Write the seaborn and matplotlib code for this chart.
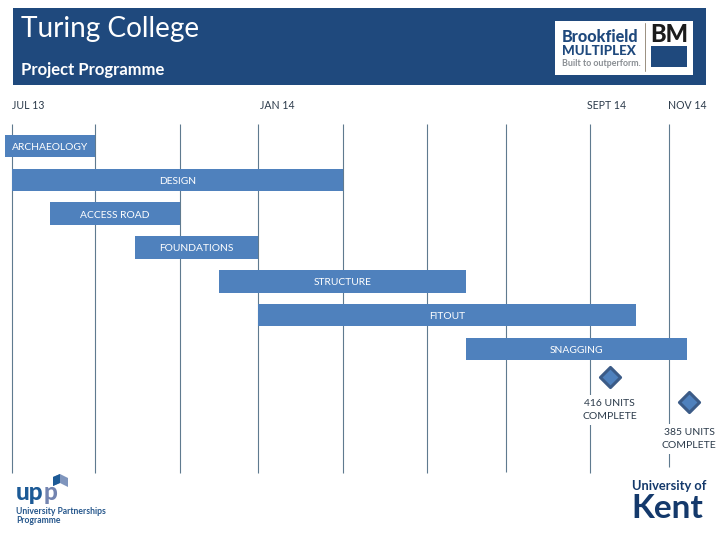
import matplotlib
matplotlib.use("Agg")
import matplotlib.pyplot as plt
from matplotlib.patches import Polygon, Rectangle
import numpy as np
import pandas as pd
import seaborn as sns

# everything on the time axis is months since JUL 13
tasks = ["ARCHAEOLOGY", "DESIGN", "ACCESS ROAD", "FOUNDATIONS", "STRUCTURE", "FITOUT", "SNAGGING"]
task_start = [-0.16, 0.0, 0.94, 3.00, 5.05, 6.01, 11.06]
task_end = [2.04, 8.07, 4.09, 6.01, 11.07, 15.20, 16.44]

grid_months = [0.0, 2.04, 4.09, 6.01, 8.07, 10.11, 12.03, 14.07, 16.0]
grid_last_row = [9.67, 9.67, 9.67, 9.67, 9.67, 9.67, 9.65, 9.67, 9.50]

period_labels = ["JUL 13", "JAN 14", "SEPT 14", "NOV 14"]
period_months = [0.01, 6.05, 14.0, 15.97]

milestone_labels = ["416 UNITS\nCOMPLETE", "385 UNITS\nCOMPLETE"]
milestone_months = [14.56, 16.49]
milestone_rows = [6.83, 7.57]
milestone_label_rows = [7.8, 8.66]

BLUE = "#4f81bd"
NAVY = "#1f497d"
GRID = "#5f7a8f"
TEXT = "#2b3a4a"

sns.set_theme(style="white")
plt.rcParams["font.family"] = ["Lato", "DejaVu Sans"]

fig = plt.figure(figsize=(7.2, 5.4), dpi=100)
ax = fig.add_axes([0, 0, 1, 1])

df = pd.DataFrame({"task": tasks, "start": task_start, "end": task_end})
df["length"] = df["end"] - df["start"]
sns.barplot(data=df, x="length", y="task", color=BLUE, saturation=1, width=0.67, linewidth=0, ax=ax, zorder=3)
for bar, start, length, name, row in zip(ax.patches, df["start"], df["length"], tasks, range(len(tasks))):
    bar.set_x(start)
    ax.text(start + length / 2, row + 0.04, name, color="white", fontsize=7.4, ha="center", va="center", zorder=4)

ax.vlines(grid_months, -0.65, grid_last_row, color=GRID, lw=0.8, zorder=1)

sns.scatterplot(x=milestone_months, y=milestone_rows, marker="D", s=105, color=BLUE,
                edgecolor="#3b5b87", linewidth=2.2, ax=ax, zorder=4, legend=False)
for label, month, row in zip(milestone_labels, milestone_months, milestone_label_rows):
    ax.text(month, row, label, color=TEXT, fontsize=7.5, ha="center", va="center", linespacing=1.6,
            bbox=dict(facecolor="white", edgecolor="none", pad=3), zorder=2)

for label, month in zip(period_labels, period_months):
    ax.text(month, -1.19, label, color=TEXT, fontsize=7.6, ha="left", va="center")

ax.set_xlim(-0.28, 17.24)
ax.set_ylim(11.646, -4.316)
ax.axis("off")

# header and logos, laid out in pixels
top = fig.add_axes([0, 0, 1, 1], facecolor="none")
top.set_xlim(0, 720)
top.set_ylim(540, 0)
top.axis("off")

top.add_patch(Rectangle((13, 8), 693, 77, color=NAVY, lw=0))
top.text(21, 29, "Turing College", color="white", fontsize=20.2, va="center")
top.text(21, 69.5, "Project Programme", color="white", fontsize=12, fontweight="bold", va="center")

top.add_patch(Rectangle((555, 21), 138, 54, color="white", lw=0))
top.text(562, 36.5, "Brookfield", color=NAVY, fontsize=11.6, fontweight="black", va="center")
top.text(562, 51, "MULTIPLEX", color=NAVY, fontsize=9.6, fontweight="black", va="center")
top.text(562, 63.5, "Built to outperform.", color="#8a8f94", fontsize=6.4, fontweight="bold", va="center")
top.plot([645, 645], [23, 71], color="#9a8f80", lw=0.7)
top.text(669, 35, "BM", color="#1c1c1c", fontsize=17, fontweight="black", ha="center", va="center")
top.add_patch(Rectangle((651, 46), 36, 20.5, color=NAVY, lw=0))

top.add_patch(Polygon([(53, 486), (53, 477), (60, 474), (68, 478), (68, 487), (60, 483)], color="#7f95bd", lw=0))
top.add_patch(Polygon([(53, 486), (53, 477), (60, 474), (60, 483)], color="#1c5a96", lw=0))
top.text(16, 493, "up", color="#1c5a96", fontsize=17.5, fontweight="black", va="center")
top.text(43.5, 493, "p", color="#7384b0", fontsize=17.5, fontweight="black", va="center")
top.text(16, 511.5, "University Partnerships", color="#26578c", fontsize=6.2, fontweight="bold", va="center")
top.text(16, 520.5, "Programme", color="#26578c", fontsize=6.2, fontweight="bold", va="center")

top.text(632, 485.5, "University of", color="#14396b", fontsize=9.3, fontweight="bold", va="center")
top.text(631, 509, "Kent", color="#14396b", fontsize=24, fontweight="bold", va="center")

fig.savefig("out.png", dpi=100)
